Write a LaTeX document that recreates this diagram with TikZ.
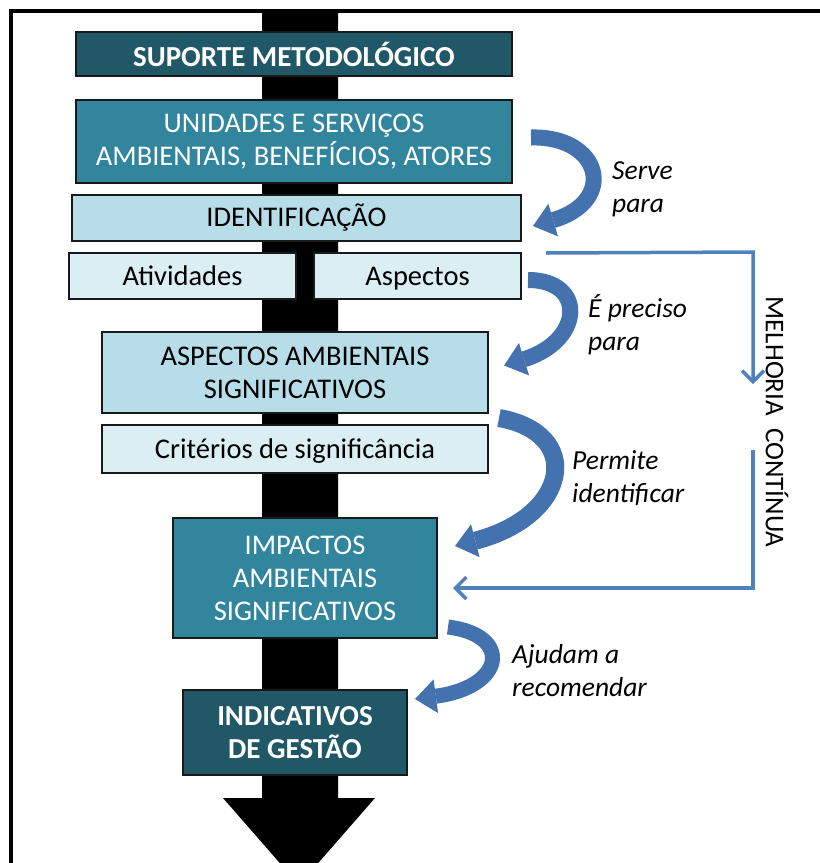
\documentclass[tikz,border=0pt]{standalone}
\usepackage{fontspec}
\setmainfont{Carlito}
\usetikzlibrary{arrows.meta,calc}
\definecolor{darkteal}{HTML}{215868}
\definecolor{midteal}{HTML}{31859C}
\definecolor{lightaqua}{HTML}{B7DEE8}
\definecolor{paleaqua}{HTML}{DAEEF3}
\definecolor{arrowblue}{HTML}{4372AE}
\definecolor{loopblue}{HTML}{4F81BD}

\begin{document}
\begin{tikzpicture}[x=1pt,y=-1pt]
      \tikzstyle{box}=[draw=black!90,line width=2pt,inner sep=2pt,align=center,font=\fontsize{28.5}{33}\selectfont]
      \tikzstyle{darkbox}=[box,fill=darkteal,text=white,font=\fontsize{29}{33}\selectfont\bfseries]
      \tikzstyle{tealbox}=[box,fill=midteal,text=white]
      \tikzstyle{lightbox}=[box,fill=lightaqua]
      \tikzstyle{palebox}=[box,fill=paleaqua,text height=22pt,text depth=4pt]
      \tikzstyle{bendarrow}=[draw=arrowblue,line width=16pt,-{Triangle[length=21pt,width=34pt,line width=0pt]}]
      \tikzstyle{loopline}=[draw=loopblue,line width=3.5pt,-{Straight Barb[length=11pt,width=22pt]}]
      \tikzstyle{lbl}=[anchor=west,inner sep=0pt,align=left,font=\fontsize{27.5}{33}\selectfont\itshape]
      \useasboundingbox (0,0) rectangle (820,863);
      \clip (0,0) rectangle (820,863);
      % frame and the black spine
      \draw[line width=4pt] (11,863) -- (11,11) -- (820,11);
      \fill[black] (262,12) -- (338,12) -- (338,798) -- (375,798) -- (299,885)
        -- (223,798) -- (262,798) -- cycle;
      % boxes
      \node[darkbox, minimum width=436pt, minimum height=44pt] (suporte) at (294,54) {SUPORTE METODOLÓGICO};
      \node[tealbox, minimum width=436pt, minimum height=83pt] (unid) at (294,141.5) {UNIDADES E SERVIÇOS\\AMBIENTAIS, BENEFÍCIOS, ATORES};
      \node[lightbox, minimum width=449pt, minimum height=46pt] (ident) at (296.5,218) {IDENTIFICAÇÃO};
      \node[palebox, minimum width=227pt, minimum height=46pt] (ativ) at (182.5,276) {Atividades};
      \node[palebox, minimum width=207pt, minimum height=46pt] (asp) at (417.5,276) {Aspectos};
      \node[lightbox, minimum width=386pt, minimum height=81pt] (aas) at (295,372.5) {ASPECTOS AMBIENTAIS\\SIGNIFICATIVOS};
      \node[palebox, minimum width=386pt, minimum height=48pt] (crit) at (295,449) {Critérios de significância};
      \node[tealbox, minimum width=264pt, minimum height=120pt] (imp) at (305,578) {IMPACTOS\\AMBIENTAIS\\SIGNIFICATIVOS};
      \node[darkbox, minimum width=224pt, minimum height=85pt] (ind) at (295,732.5) {INDICATIVOS\\DE GESTÃO};
      % curved arrows and their labels
      \draw[bendarrow] ($(unid.east)+(18,-4)$) .. controls +(70,-2) and +(85,-25) .. ($(ident.east)+(11,8)$);
      \draw[bendarrow] ($(asp.east)+(6,4)$) .. controls +(58,0) and +(80,-25) .. ($(aas.east)+(15,-7)$);
      \draw[bendarrow,line width=18pt] ($(aas.south east)+(10,4)$) .. controls +(85,15) and +(115,-30) .. ($(imp.north east)+(17,29)$);
      \draw[bendarrow,line width=15pt] ($(imp.south east)+(10,-12)$) .. controls +(65,8) and +(90,-12) .. ($(ind.north east)+(7,10)$);
      \node[lbl] (serve) at (612,189) {Serve\\para};
      \node[lbl] (preciso) at (588,325) {É preciso\\para};
      \node[lbl] (permite) at (572,478) {Permite\\identificar};
      \node[lbl] (ajudam) at (512,671) {Ajudam a\\recomendar};
      % melhoria continua loop
      \coordinate (mc1) at (753,252);
      \coordinate (mc2) at (753,384);
      \coordinate (mc3) at (753,450);
      \draw[loopline] ($(ident.south east)+(24,11)$) -- (mc1) -- (mc2);
      \draw[loopline] (mc3) |- ($(imp.east)+(15,10)$);
      \node[rotate=-90, font=\fontsize{27}{33}\selectfont] (melhoria) at (777,422) {MELHORIA\ \ CONTÍNUA};
\end{tikzpicture}
\end{document}
